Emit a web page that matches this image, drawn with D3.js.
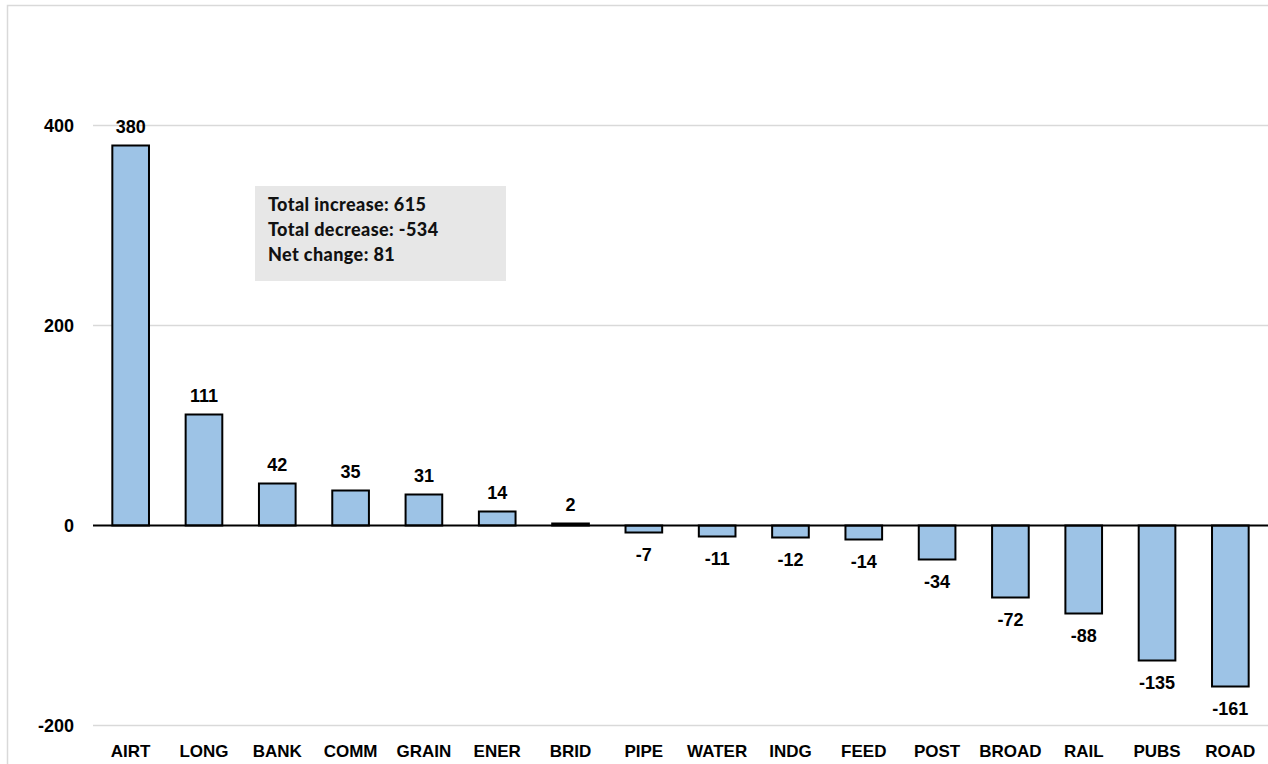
<!DOCTYPE html>
<html lang="en">
	<head>
		<meta charset="utf-8">
		<title>Change by sector</title>
		<script type="text/javascript" src="https://d3js.org/d3.v7.min.js"></script>
		<style type="text/css">
			body { margin: 0; background: #fff; }
			text { font-family: "Liberation Sans", Arial, sans-serif; font-weight: bold; fill: #000; }
			.note text { font-family: Lato, "Open Sans", sans-serif; font-size: 18px; font-weight: 900; letter-spacing: 0.4px; fill: #111; }
		</style>
	</head>
	<body>
		<script type="text/javascript">

			var categories = ["AIRT", "LONG", "BANK", "COMM", "GRAIN", "ENER", "BRID", "PIPE",
				"WATER", "INDG", "FEED", "POST", "BROAD", "RAIL", "PUBS", "ROAD"];
			var values = [380, 111, 42, 35, 31, 14, 2, -7, -11, -12, -14, -34, -72, -88, -135, -161];
			var yTicks = [-200, 0, 200, 400];
			var noteLines = ["Total increase: 615", "Total decrease: -534", "Net change: 81"];

			var w = 1268, h = 764;

			var svg = d3.select("body").append("svg")
				.attr("width", w)
				.attr("height", h);

			// chart frame (runs off the right and bottom of the picture)
			svg.append("rect")
				.attr("x", 7.5).attr("y", 5.5)
				.attr("width", w + 20).attr("height", h + 20)
				.attr("fill", "none")
				.attr("stroke", "#d9d9d9")
				.attr("stroke-width", 1.5);

			var x = d3.scaleBand()
				.domain(categories)
				.range([94, 1267])
				.paddingInner(0.5)
				.paddingOuter(0.25);

			var y = d3.scaleLinear()
				.domain([-200, 400])
				.range([725.5, 125.5]);

			// gridlines
			svg.append("g")
				.selectAll("line")
				.data(yTicks.filter(function(d){ return d !== 0; }))
				.enter().append("line")
				.attr("x1", 93).attr("x2", w)
				.attr("y1", function(d){ return y(d); })
				.attr("y2", function(d){ return y(d); })
				.attr("stroke", "#d9d9d9")
				.attr("stroke-width", 1.5);

			// y tick labels
			svg.append("g")
				.selectAll("text")
				.data(yTicks)
				.enter().append("text")
				.attr("x", 74)
				.attr("y", function(d){ return y(d) + 6.5; })
				.attr("text-anchor", "end")
				.style("font-size", "18px")
				.text(function(d){ return d; });

			// bars
			svg.append("g")
				.selectAll("rect")
				.data(values)
				.enter().append("rect")
				.attr("x", function(d, i){ return x(categories[i]); })
				.attr("width", x.bandwidth())
				.attr("y", function(d){ return y(Math.max(0, d)); })
				.attr("height", function(d){ return Math.abs(y(d) - y(0)); })
				.attr("fill", "#9dc3e6")
				.attr("stroke", "#000")
				.attr("stroke-width", 2);

			// zero line
			svg.append("line")
				.attr("x1", 93).attr("x2", w)
				.attr("y1", y(0)).attr("y2", y(0))
				.attr("stroke", "#000")
				.attr("stroke-width", 2);

			// value labels
			svg.append("g")
				.selectAll("text")
				.data(values)
				.enter().append("text")
				.attr("x", function(d, i){ return x(categories[i]) + x.bandwidth() / 2; })
				.attr("y", function(d){ return d >= 0 ? y(d) - 13 : y(d) + 28; })
				.attr("text-anchor", "middle")
				.style("font-size", "18px")
				.text(function(d){ return d; });

			// category labels
			svg.append("g")
				.selectAll("text")
				.data(categories)
				.enter().append("text")
				.attr("x", function(d){ return x(d) + x.bandwidth() / 2; })
				.attr("y", 757)
				.attr("text-anchor", "middle")
				.style("font-size", "17px")
				.text(function(d){ return d; });

			// summary box
			var note = svg.append("g").attr("class", "note");
			note.append("rect")
				.attr("x", 255).attr("y", 186)
				.attr("width", 251).attr("height", 95)
				.attr("fill", "#e7e7e7");
			note.selectAll("text")
				.data(noteLines)
				.enter().append("text")
				.attr("x", 268)
				.attr("y", function(d, i){ return 211 + i * 25; })
				.text(function(d){ return d; });

		</script>
	</body>
</html>
